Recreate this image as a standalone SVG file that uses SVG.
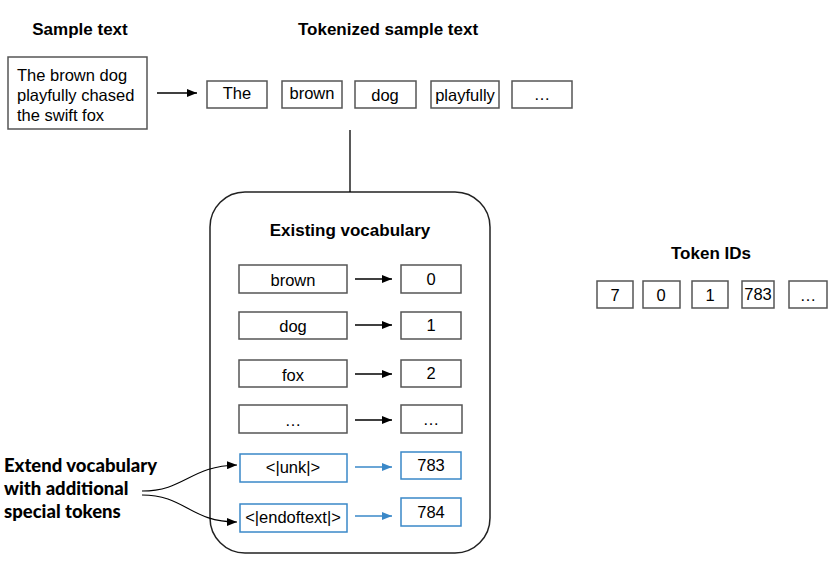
<svg xmlns="http://www.w3.org/2000/svg" width="834" height="565" viewBox="0 0 834 565">
<defs>
<style>
.box{fill:#fff;stroke:#555;stroke-width:1.5}
.bbox{fill:#fff;stroke:#3a88c8;stroke-width:1.5}
.t{font-family:"Liberation Sans",Arial,sans-serif;font-size:16.5px;fill:#000;text-anchor:middle;dominant-baseline:central}
.h{font-family:"Liberation Sans",Arial,sans-serif;font-size:17px;font-weight:bold;fill:#000;text-anchor:middle;dominant-baseline:central}
.n{font-family:Lato,"Open Sans",sans-serif;font-weight:900;font-size:18.5px;fill:#000}
.ln{fill:none;stroke:#000;stroke-width:1.3}
.bl{fill:none;stroke:#3a88c8;stroke-width:1.3}
</style>
<marker id="ah" markerWidth="10" markerHeight="8" refX="10" refY="4" orient="auto" markerUnits="userSpaceOnUse"><path d="M0,0 L10,4 L0,8 z" fill="#000"/></marker>
<marker id="ahb" markerWidth="10" markerHeight="8" refX="10" refY="4" orient="auto" markerUnits="userSpaceOnUse"><path d="M0,0 L10,4 L0,8 z" fill="#3a88c8"/></marker>
</defs>
<rect width="834" height="565" fill="#fff"/>
<text class="h" x="80" y="29">Sample text</text>
<text class="h" x="388" y="29">Tokenized sample text</text>
<g id="sample">
<rect class="box" x="8" y="57" width="139" height="72"/>
<text class="t" style="text-anchor:start" x="17" y="75">The brown dog</text>
<text class="t" style="text-anchor:start" x="17" y="95">playfully chased</text>
<text class="t" style="text-anchor:start" x="17" y="115">the swift fox</text>
</g>
<g id="tok-the"><rect class="box" x="207" y="81" width="60" height="27"/><text class="t" x="237" y="93">The</text></g>
<g id="tok-brown"><rect class="box" x="282" y="81" width="60" height="27"/><text class="t" x="312" y="93">brown</text></g>
<g id="tok-dog"><rect class="box" x="355" y="81" width="61" height="27"/><text class="t" x="385" y="95">dog</text></g>
<g id="tok-playfully"><rect class="box" x="431" y="81" width="68" height="27"/><text class="t" x="465" y="95">playfully</text></g>
<g id="tok-more"><rect class="box" x="512" y="81" width="60" height="27"/><text class="t" x="542" y="94">…</text></g>
<g id="vocab">
<rect class="box" x="210" y="192" width="280" height="361" rx="35" ry="35" style="stroke:#222"/>
<text class="h" x="350" y="230">Existing vocabulary</text>
</g>
<g id="v-brown"><rect class="box" x="239" y="265" width="108" height="28"/><text class="t" x="293" y="280">brown</text></g>
<g id="v-0"><rect class="box" x="401" y="265" width="60" height="28"/><text class="t" x="431" y="279">0</text></g>
<g id="v-dog"><rect class="box" x="239" y="312" width="108" height="27"/><text class="t" x="293" y="326">dog</text></g>
<g id="v-1"><rect class="box" x="401" y="312" width="60" height="27"/><text class="t" x="431" y="325">1</text></g>
<g id="v-fox"><rect class="box" x="239" y="360" width="108" height="27"/><text class="t" x="293" y="375">fox</text></g>
<g id="v-2"><rect class="box" x="401" y="360" width="60" height="27"/><text class="t" x="431" y="373">2</text></g>
<g id="v-more"><rect class="box" x="239" y="405" width="108" height="28"/><text class="t" x="293" y="420">…</text></g>
<g id="v-more-id"><rect class="box" x="401" y="405" width="61" height="28"/><text class="t" x="431" y="419">…</text></g>
<g id="v-unk"><rect class="bbox" x="240" y="454" width="107" height="28"/><text class="t" x="293" y="467">&lt;|unk|&gt;</text></g>
<g id="v-783"><rect class="bbox" x="401" y="452" width="60" height="27"/><text class="t" x="431" y="465">783</text></g>
<g id="v-eot"><rect class="bbox" x="240" y="504" width="107" height="28"/><text class="t" x="293" y="517">&lt;|endoftext|&gt;</text></g>
<g id="v-784"><rect class="bbox" x="401" y="498" width="60" height="28"/><text class="t" x="431" y="512">784</text></g>
<g id="note">
<text class="n" x="4" y="472">Extend vocabulary</text>
<text class="n" x="4" y="495">with additional</text>
<text class="n" x="4" y="518">special tokens</text>
</g>
<text class="h" x="711" y="253">Token IDs</text>
<g id="id-7"><rect class="box" x="597" y="281" width="36" height="27"/><text class="t" x="615" y="295">7</text></g>
<g id="id-0"><rect class="box" x="643" y="281" width="37" height="27"/><text class="t" x="661" y="295">0</text></g>
<g id="id-1"><rect class="box" x="692" y="281" width="36" height="27"/><text class="t" x="710" y="295">1</text></g>
<g id="id-783"><rect class="box" x="742" y="281" width="32" height="27"/><text class="t" x="758" y="294">783</text></g>
<g id="id-more"><rect class="box" x="789" y="281" width="38" height="27"/><text class="t" x="808" y="295">…</text></g>
<g id="connectors">
<line class="ln" x1="157" y1="93" x2="197" y2="93" marker-end="url(#ah)"/>
<line class="ln" x1="350" y1="130" x2="350" y2="192"/>
<line class="ln" x1="355" y1="279" x2="392" y2="279" marker-end="url(#ah)"/>
<line class="ln" x1="355" y1="325" x2="392" y2="325" marker-end="url(#ah)"/>
<line class="ln" x1="355" y1="374" x2="392" y2="374" marker-end="url(#ah)"/>
<line class="ln" x1="355" y1="420" x2="392" y2="420" marker-end="url(#ah)"/>
<line class="bl" x1="355" y1="467" x2="392" y2="467" marker-end="url(#ahb)"/>
<line class="bl" x1="355" y1="516" x2="392" y2="516" marker-end="url(#ahb)"/>
<path class="ln" d="M142,491 C185,491 190,466 237,465" marker-end="url(#ah)" style="stroke-width:1.1"/>
<path class="ln" d="M142,495 C185,495 190,522 237,522" marker-end="url(#ah)" style="stroke-width:1.1"/>
</g>
</svg>
